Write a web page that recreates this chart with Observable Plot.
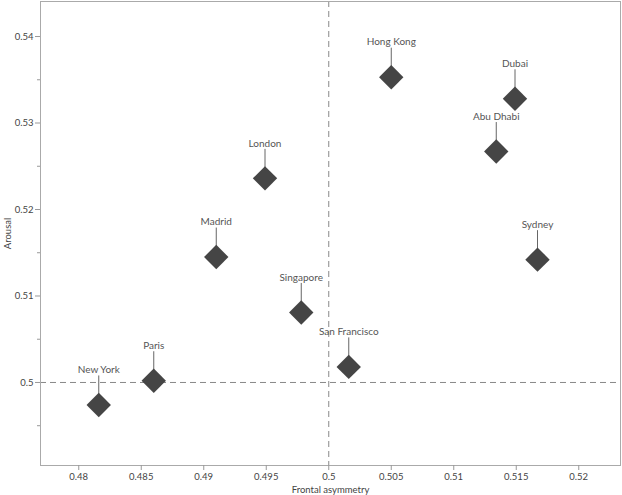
<!DOCTYPE html>
<html>
<head>
<meta charset="utf-8">
<script src="https://cdn.jsdelivr.net/npm/d3@7"></script>
<script src="https://cdn.jsdelivr.net/npm/@observablehq/plot@0.6"></script>
<style>
  body { margin: 0; background: #fff; }
  #chart svg { display: block; }
</style>
</head>
<body>
<div id="chart"></div>
<script>
const cities = ["New York", "Paris", "Madrid", "London", "Singapore", "San Francisco", "Hong Kong", "Dubai", "Abu Dhabi", "Sydney"];
const frontalAsymmetry = [0.4816, 0.4860, 0.4910, 0.4949, 0.4978, 0.5016, 0.5050, 0.5149, 0.5134, 0.5167];
const arousal = [0.4974, 0.5002, 0.5145, 0.5236, 0.5081, 0.5018, 0.5353, 0.5328, 0.5267, 0.5142];
const xTicks = [0.48, 0.485, 0.49, 0.495, 0.5, 0.505, 0.51, 0.515, 0.52];
const yTicks = [0.5, 0.51, 0.52, 0.53, 0.54];
const yMinorTicks = [0.495, 0.505, 0.515, 0.525, 0.535];
const refX = [0.5];
const refY = [0.5];

const data = cities.map((c, i) => ({city: c, x: frontalAsymmetry[i], y: arousal[i]}));
const fmt = d => String(+d.toFixed(3));

const chart = Plot.plot({
  width: 622,
  height: 495,
  marginLeft: 40,
  marginRight: 2,
  marginTop: 1,
  marginBottom: 30,
  style: {fontFamily: "'Segoe UI', Lato, sans-serif", fontSize: "9.5px", background: "#fff"},
  x: {domain: [0.47694, 0.52334]},
  y: {domain: [0.4904, 0.54405]},
  marks: [
    Plot.ruleX(refX, {stroke: "#888", strokeDasharray: "6,4", strokeWidth: 1}),
    Plot.ruleY(refY, {stroke: "#888", strokeDasharray: "6,4", strokeWidth: 1}),
    Plot.frame({stroke: "#aaa"}),
    Plot.axisX({ticks: xTicks, tickSize: 5, tickPadding: 3, tickFormat: fmt, stroke: "#999", fill: "#444",
      label: "Frontal asymmetry", labelAnchor: "center", labelArrow: "none", labelOffset: 27}),
    Plot.axisY({ticks: yTicks, tickSize: 5, tickPadding: 2, tickFormat: fmt, stroke: "#999", fill: "#444",
      label: "Arousal", labelAnchor: "center", labelArrow: "none", labelOffset: 36}),
    Plot.axisY({ticks: yMinorTicks, tickSize: 3, text: null, stroke: "#999", label: null}),
    Plot.ruleX(data, {x: "x", y1: "y", y2: "y", insetTop: -29, stroke: "#666", strokeWidth: 1}),
    Plot.dot(data, {x: "x", y: "y", symbol: "diamond2", r: 11, fill: "#454545", stroke: "none"}),
    Plot.text(data, {x: "x", y: "y", text: "city", dy: -35, fill: "#555", fontSize: 10, textAnchor: "middle"})
  ]
});
document.getElementById("chart").append(chart);
</script>
</body>
</html>
